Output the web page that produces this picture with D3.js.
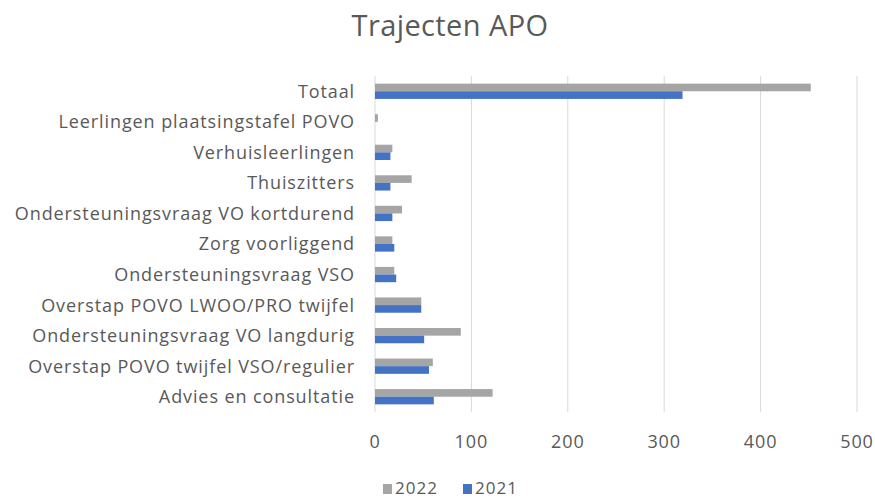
<!DOCTYPE html>
<html>
<head>
<meta charset="utf-8">
<script src="https://cdn.jsdelivr.net/npm/d3@7"></script>
<style>
  body { margin: 0; background: #fff; }
  text { font-family: "Open Sans", "Liberation Sans", sans-serif; fill: #595959; }
</style>
</head>
<body>
<script>
// categories, top to bottom as in the chart
var categories = [
    "Totaal",
    "Leerlingen plaatsingstafel POVO",
    "Verhuisleerlingen",
    "Thuiszitters",
    "Ondersteuningsvraag VO kortdurend",
    "Zorg voorliggend",
    "Ondersteuningsvraag VSO",
    "Overstap POVO LWOO/PRO twijfel",
    "Ondersteuningsvraag VO langdurig",
    "Overstap POVO twijfel VSO/regulier",
    "Advies en consultatie"
];
var values2022 = [452, 3, 18, 38, 28, 18, 20, 48, 89, 60, 122];
var values2021 = [319, 0, 16, 16, 18, 20, 22, 48, 51, 56, 61];
var seriesNames = ["2022", "2021"];
var seriesColors = ["#A5A5A5", "#4472C4"];
var xTicks = [0, 100, 200, 300, 400, 500];

var w = 875, h = 499;
var margin = {left: 375, right: 18, top: 76, bottom: 88};

var svg = d3.select("body").append("svg")
    .attr("width", w)
    .attr("height", h);

var x = d3.scaleLinear()
    .domain([0, 500])
    .range([margin.left, 857]);

var y = d3.scaleBand()
    .domain(categories)
    .range([margin.top, 412])
    .paddingInner(0.5)
    .paddingOuter(0.25);

var sub = d3.scaleBand()
    .domain(seriesNames)
    .range([0, y.bandwidth()]);

// title
svg.append("text")
    .attr("x", 450)
    .attr("y", 36)
    .attr("text-anchor", "middle")
    .attr("font-size", "29px")
    .attr("letter-spacing", "0.4px")
    .text("Trajecten APO");

// gridlines
svg.append("g")
    .selectAll("line")
    .data(xTicks)
    .enter()
    .append("line")
    .attr("x1", d => x(d))
    .attr("x2", d => x(d))
    .attr("y1", margin.top)
    .attr("y2", 412)
    .attr("stroke", "#D9D9D9")
    .attr("stroke-width", 1);

// bars
var rows = categories.map(function(c, i) {
    return {cat: c, vals: [values2022[i], values2021[i]]};
});

var group = svg.append("g")
    .selectAll("g")
    .data(rows)
    .enter()
    .append("g")
    .attr("transform", d => "translate(0," + y(d.cat) + ")");

group.selectAll("rect")
    .data(d => d.vals.map((v, k) => ({v: v, s: seriesNames[k], c: seriesColors[k]})))
    .enter()
    .append("rect")
    .attr("x", x(0))
    .attr("y", d => sub(d.s))
    .attr("width", d => x(d.v) - x(0))
    .attr("height", sub.bandwidth())
    .attr("fill", d => d.c);

// category labels
svg.append("g")
    .selectAll("text")
    .data(categories)
    .enter()
    .append("text")
    .attr("x", 355)
    .attr("y", d => y(d) + y.bandwidth() / 2)
    .attr("dy", "0.36em")
    .attr("text-anchor", "end")
    .attr("font-size", "18px")
    .attr("letter-spacing", "0.9px")
    .text(d => d);

// x tick labels
svg.append("g")
    .selectAll("text")
    .data(xTicks)
    .enter()
    .append("text")
    .attr("x", d => x(d))
    .attr("y", 448)
    .attr("text-anchor", "middle")
    .attr("font-size", "18px")
    .attr("letter-spacing", "0.9px")
    .text(d => d);

// legend
var legend = svg.append("g")
    .selectAll("g")
    .data(seriesNames)
    .enter()
    .append("g")
    .attr("transform", (d, i) => "translate(" + (383 + i * 80) + ",0)");

legend.append("rect")
    .attr("x", 0)
    .attr("y", 484)
    .attr("width", 9)
    .attr("height", 10)
    .attr("fill", (d, i) => seriesColors[i]);

legend.append("text")
    .attr("x", 12)
    .attr("y", 494)
    .attr("font-size", "17px")
    .attr("letter-spacing", "1px")
    .text(d => d);
</script>
</body>
</html>
